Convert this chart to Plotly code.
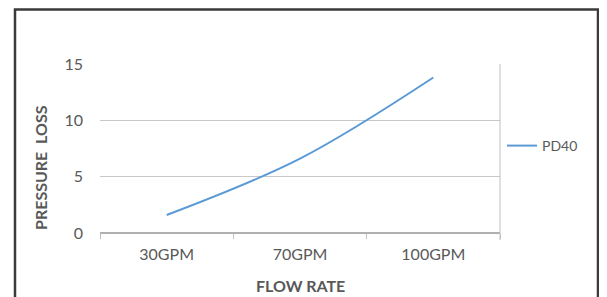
import plotly.graph_objects as go

categories = ["30GPM", "70GPM", "100GPM"]
pd40 = [1.6, 6.6, 13.8]
y_ticks = [0, 5, 10, 15]
series_name = "PD40"

# page body has an 8px margin; work in screen pixels and convert
OFF = 8
W, H = 607 - OFF, 297 - OFF
PL, PR, PT, PB = 100, 500, 64, 233  # plot area in screen px
L, R, T, B = PL - OFF, W - (PR - OFF), PT - OFF, H - (PB - OFF)
pw, ph = PR - PL, PB - PT

def px_x(px):
    return (px - PL) / pw

def px_y(py):
    return (PB - py) / ph

font_family = "Lato, Open Sans, sans-serif"
txt = "#595959"

fig = go.Figure()
fig.add_trace(go.Scatter(
    x=categories, y=pd40, mode="lines", name=series_name,
    line=dict(color="#5b9bd5", width=2, shape="spline"),
))

fig.update_layout(
    width=W, height=H,
    margin=dict(l=L, r=R, t=T, b=B, autoexpand=False),
    paper_bgcolor="white", plot_bgcolor="white",
    font=dict(family=font_family, size=16, color=txt),
    showlegend=True,
    legend=dict(x=px_x(502), xanchor="left", y=px_y(146), yanchor="middle",
                font=dict(size=14, color=txt), bgcolor="rgba(0,0,0,0)",
                itemwidth=30, tracegroupgap=0),
    xaxis=dict(
        type="category", tickson="boundaries", ticks="outside", ticklen=5,
        tickcolor="#bfbfbf", showgrid=False, showline=False, zeroline=False,
        range=[-0.5, 2.5], ticklabelstandoff=10, tickfont=dict(size=16),
    ),
    yaxis=dict(
        range=[0, 15], tickvals=y_ticks, showgrid=True, gridcolor="#c8c8c8",
        gridwidth=1, zeroline=True, zerolinecolor="#b0b0b0", showline=False,
        ticks="", ticklabelstandoff=16, tickfont=dict(size=16),
    ),
    shapes=[
        dict(type="rect", xref="paper", yref="paper",
             x0=px_x(15), x1=px_x(598), y0=px_y(310), y1=px_y(9.5),
             line=dict(color="#3a3a3a", width=2.5), layer="below"),
        dict(type="line", xref="paper", yref="paper",
             x0=1, x1=1, y0=px_y(240), y1=1,
             line=dict(color="#bfbfbf", width=1)),
    ],
    annotations=[
        dict(text="<b>FLOW RATE</b>", xref="paper", yref="paper",
             x=px_x(300), y=px_y(285), xanchor="center", yanchor="middle",
             showarrow=False, font=dict(size=16, color=txt)),
        dict(text="<b>PRESSURE  LOSS</b>", xref="paper", yref="paper",
             x=px_x(40), y=px_y(168), xanchor="center", yanchor="middle",
             showarrow=False, textangle=-90, font=dict(size=16, color=txt)),
    ],
)

fig.write_html("out.html")
